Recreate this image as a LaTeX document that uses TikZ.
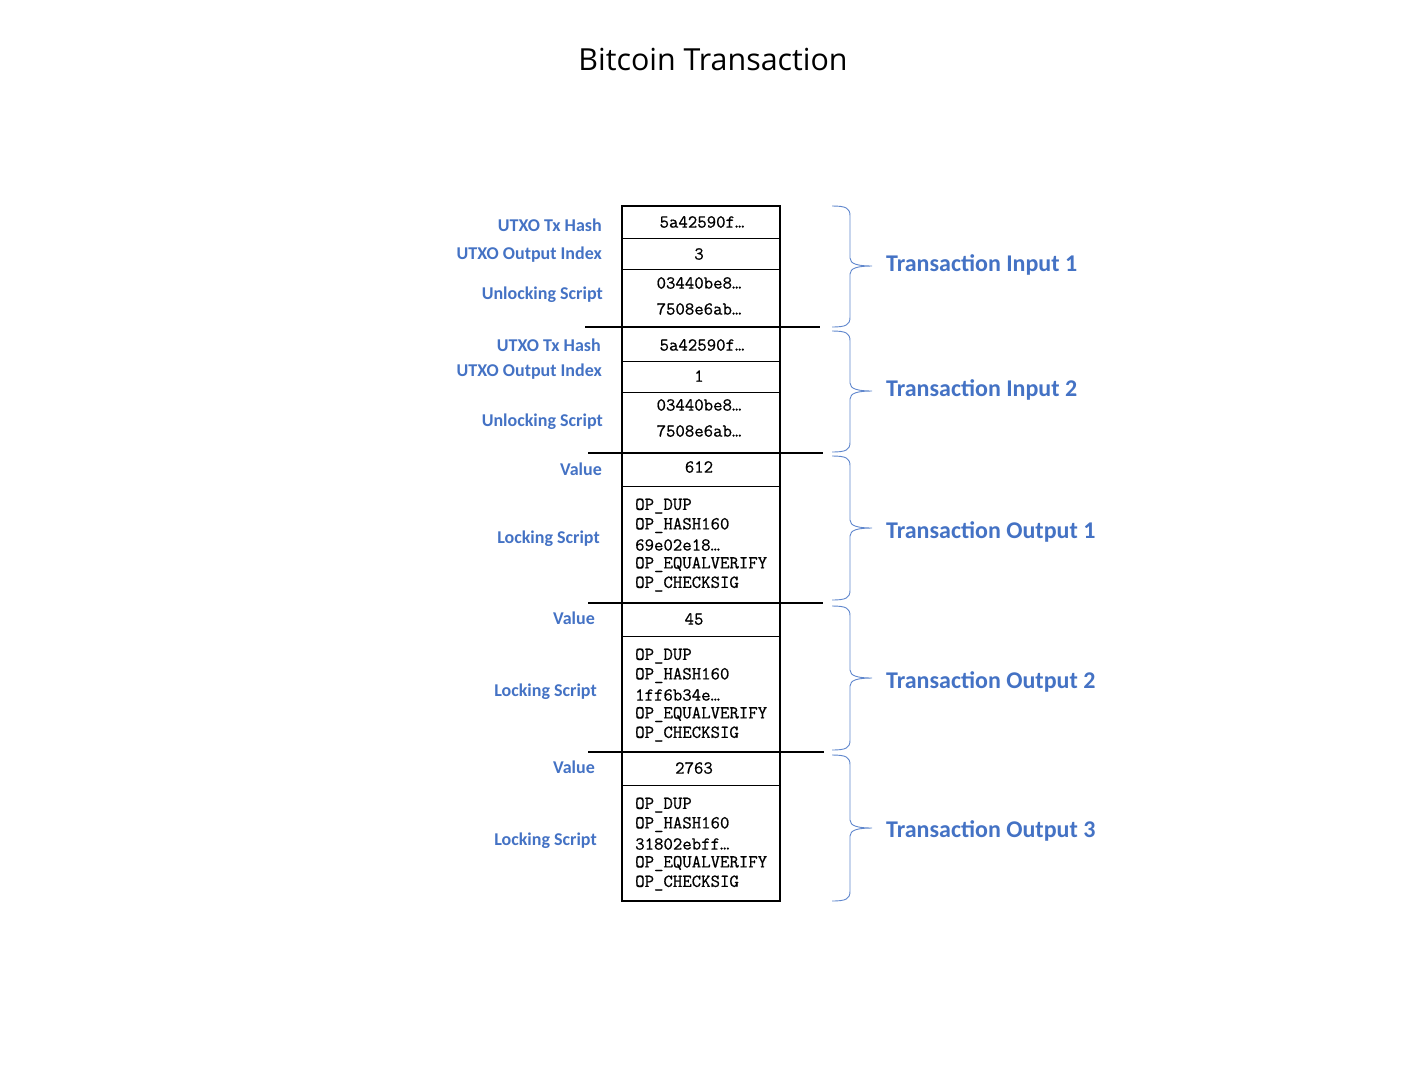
\documentclass[tikz,border=0pt]{standalone}
\usepackage{fontspec}
\setmainfont{Carlito}
\newfontfamily\titlefont{Open Sans}
\newfontfamily\codefont[FakeBold=0.7]{Latin Modern Mono}
\definecolor{labelblue}{HTML}{4472C4}

\begin{document}
\begin{tikzpicture}[
    x=1pt, y=-1pt,
    field/.style={anchor=east, inner sep=0pt, text=labelblue, font=\bfseries\fontsize{18}{21}\selectfont},
    cell/.style={inner sep=0pt, font=\codefont\fontsize{18.3}{20}\selectfont},
    script/.style={cell, anchor=west},
    group/.style={anchor=west, inner sep=0pt, text=labelblue, font=\bfseries\fontsize{24}{28}\selectfont},
    rowline/.style={line width=0.8pt},
    sepline/.style={line width=2.6pt},
    grpbrace/.style={draw=labelblue!85, line width=0.9pt}
]
\useasboundingbox (0,0) rectangle (1420,1072);

\node[font=\titlefont\fontsize{30.4}{36}\selectfont] (title) at (713,59) {Bitcoin Transaction};

% the transaction box
\draw[line width=1.6pt] (622,206) rectangle (780,901);
\foreach \y in {238,269,361,392,486,636,785}
    \draw[rowline] (622,\y) -- (780,\y);
\draw[sepline] (585,327) -- (820,327);
\draw[sepline] (588,453) -- (823,453);
\draw[sepline] (588,603) -- (823,603);
\draw[sepline] (588,752) -- (824,752);

% input 1
\node[field] (hash1) at (602,225) {UTXO Tx Hash};
\node[field] (index1) at (602,255) {UTXO Output Index};
\node[field] (unlock1) at (603,295) {Unlocking Script};
\node[cell] (hashval1) at (702,222) {5a42590f…};
\node[cell] (indexval1) at (699,254) {3};
\node[cell] (sigA1) at (699,283) {03440be8…};
\node[cell] (sigB1) at (699,309) {7508e6ab…};

% input 2
\node[field] (hash2) at (601,345) {UTXO Tx Hash};
\node[field] (index2) at (602,372) {UTXO Output Index};
\node[field] (unlock2) at (603,422) {Unlocking Script};
\node[cell] (hashval2) at (702,345) {5a42590f…};
\node[cell] (indexval2) at (699,376) {1};
\node[cell] (sigA2) at (699,405) {03440be8…};
\node[cell] (sigB2) at (699,431) {7508e6ab…};

% outputs
\node[field] (value1) at (602,469) {Value};
\node[field] (lock1) at (600,539) {Locking Script};
\node[cell] (amount1) at (699,467) {612};
\node[field] (value2) at (595,618) {Value};
\node[field] (lock2) at (597,692) {Locking Script};
\node[cell] (amount2) at (694,619) {45};
\node[field] (value3) at (595,767) {Value};
\node[field] (lock3) at (597,841) {Locking Script};
\node[cell] (amount3) at (694,768) {2763};

\foreach \n/\y/\pkh in {1/506/69e02e18…, 2/656/1ff6b34e…, 3/805/31802ebff…} {
    \node[script] (dup\n) at (635,\y) {OP\_DUP};
    \node[script] (hash160\n) at (635,\y+19.5) {OP\_HASH160};
    \node[script] (pkh\n) at (635,\y+39) {\pkh};
    \node[script] (eqv\n) at (635,\y+58.5) {OP\_EQUALVERIFY};
    \node[script] (chk\n) at (635,\y+78) {OP\_CHECKSIG};
}

% groups
\foreach \top/\mid/\bot in {206/266/327, 331/391/452, 456/528/600, 606/678/750, 755/828/901}
    \draw[grpbrace] (832,\top) .. controls (846,\top) and (850,\top+2) .. (850,\top+10)
        -- (850,\mid-8) .. controls (850,\mid-2) and (858,\mid) .. (872,\mid)
        .. controls (858,\mid) and (850,\mid+2) .. (850,\mid+8)
        -- (850,\bot-10) .. controls (850,\bot-2) and (846,\bot) .. (832,\bot);
\node[group] (in1) at (886,265) {Transaction Input 1};
\node[group] (in2) at (886,390) {Transaction Input 2};
\node[group] (out1) at (886,532) {Transaction Output 1};
\node[group] (out2) at (886,682) {Transaction Output 2};
\node[group] (out3) at (886,831) {Transaction Output 3};

\end{tikzpicture}
\end{document}
